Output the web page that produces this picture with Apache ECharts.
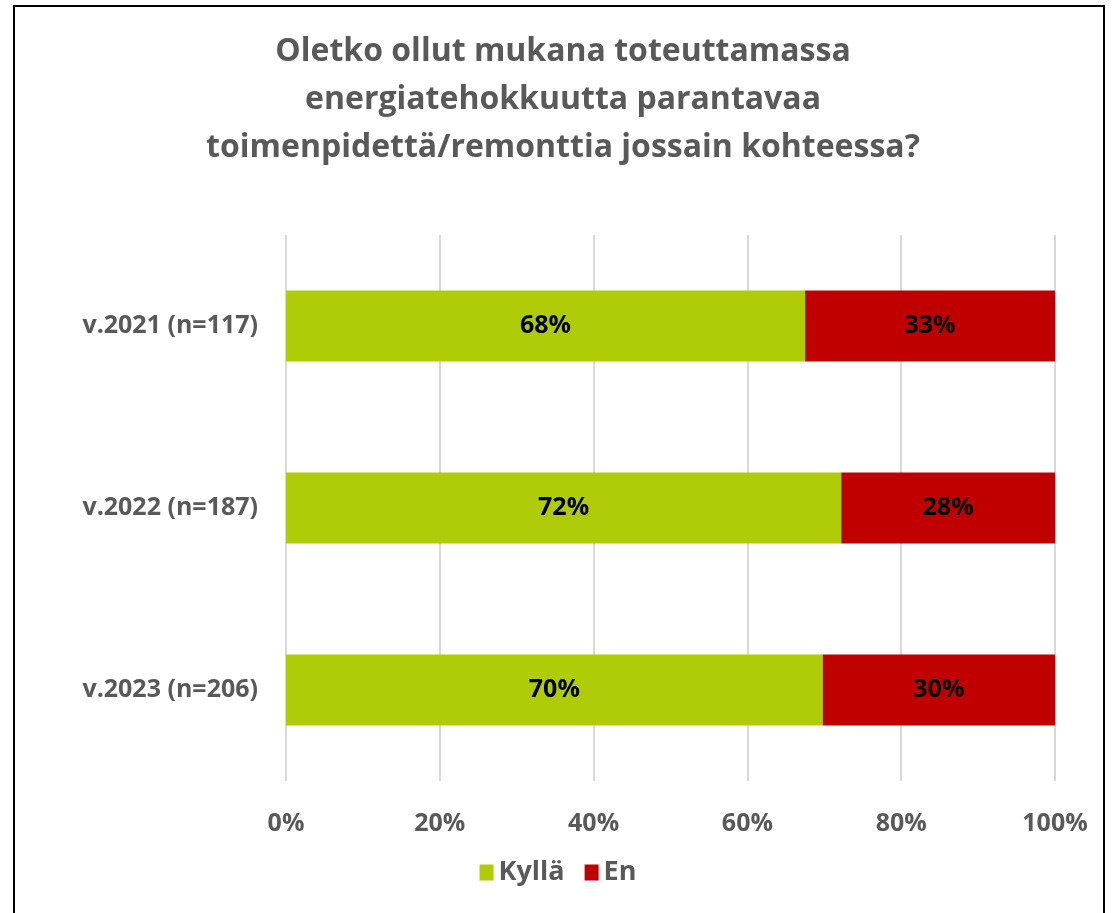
<!DOCTYPE html>
<html lang="fi">
<head>
    <meta charset="UTF-8">
    <title>Energiatehokkuus</title>
    <style>
        html, body { margin: 0; padding: 0; background: #fff; }
        #chart { width: 1116px; height: 913px; }
    </style>
</head>
<body>
<div id="chart"></div>
<script src="https://cdn.jsdelivr.net/npm/echarts@6/dist/echarts.min.js"></script>
<script type="text/javascript">
    // data
    var categories = ['v.2021 (n=117)', 'v.2022 (n=187)', 'v.2023 (n=206)'];
    var kylla = [67.5, 72.2, 69.8];
    var en = [32.5, 27.8, 30.2];
    var seriesNames = ['Kyllä', 'En'];
    var colors = ['#b0cb08', '#c00000'];

    var font = '"Open Sans", sans-serif';
    var grey = '#595959';

    var myChart = echarts.init(document.getElementById('chart'));

    function pctLabel(p) {
        return Math.round(p.value) + '%';
    }

    myChart.setOption({
        animation: false,
        title: {
            text: 'Oletko ollut mukana toteuttamassa\nenergiatehokkuutta parantavaa\ntoimenpidettä/remonttia jossain kohteessa?',
            left: 558,
            top: 23,
            textAlign: 'center',
            textStyle: {
                fontFamily: font,
                fontSize: 32,
                fontWeight: 'bold',
                color: grey,
                lineHeight: 48
            }
        },
        graphic: [{
            type: 'rect',
            shape: { x: 14, y: 6, width: 1090, height: 930 },
            style: { fill: 'none', stroke: '#000', lineWidth: 2 }
        }],
        legend: {
            bottom: 22,
            left: 'center',
            itemWidth: 14,
            itemHeight: 16,
            itemGap: 20,
            icon: 'rect',
            textStyle: { fontFamily: font, fontSize: 27, fontWeight: 'bold', color: grey },
            data: seriesNames
        },
        grid: {
            left: 286,
            right: 61,
            top: 235,
            bottom: 132
        },
        xAxis: {
            type: 'value',
            min: 0,
            max: 100,
            interval: 20,
            axisLine: { show: false },
            axisTick: { show: false },
            splitLine: { lineStyle: { color: '#d9d9d9', width: 2 } },
            axisLabel: {
                margin: 30,
                fontFamily: font,
                fontSize: 25,
                fontWeight: 'bold',
                color: grey,
                formatter: '{value}%'
            }
        },
        yAxis: {
            type: 'category',
            inverse: true,
            data: categories,
            axisLine: { show: false },
            axisTick: { show: false },
            axisLabel: {
                margin: 28,
                fontFamily: font,
                fontSize: 25,
                fontWeight: 'bold',
                color: grey
            }
        },
        series: [
            {
                name: seriesNames[0],
                type: 'bar',
                stack: 'total',
                barWidth: 71,
                data: kylla,
                itemStyle: { color: colors[0] },
                label: {
                    show: true,
                    position: 'inside',
                    formatter: pctLabel,
                    fontFamily: font,
                    fontSize: 25,
                    fontWeight: 'bold',
                    color: '#000'
                }
            },
            {
                name: seriesNames[1],
                type: 'bar',
                stack: 'total',
                barWidth: 71,
                data: en,
                itemStyle: { color: colors[1] },
                label: {
                    show: true,
                    position: 'inside',
                    formatter: pctLabel,
                    fontFamily: font,
                    fontSize: 25,
                    fontWeight: 'bold',
                    color: '#000'
                }
            }
        ]
    });
</script>
</body>
</html>
